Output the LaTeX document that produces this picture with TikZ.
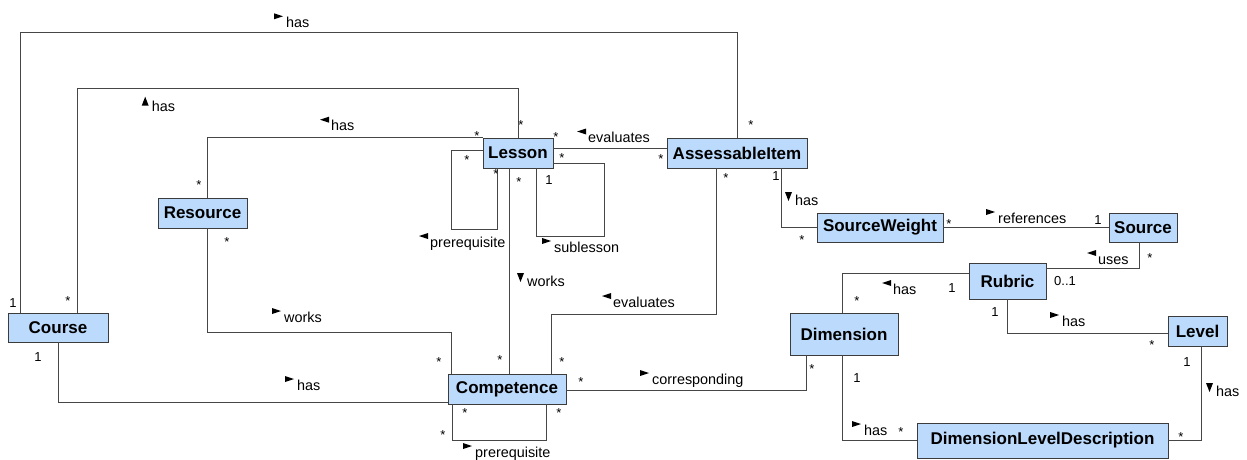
\documentclass[tikz,border=0pt]{standalone}
\usepackage{fontspec}
\setmainfont{Liberation Sans}
\definecolor{boxfill}{RGB}{187,218,252}
\definecolor{boxline}{RGB}{60,60,60}
\definecolor{conline}{RGB}{70,70,70}
\newcommand\tR[1]{\fill[tri] ([shift={(-12,-14)}]#1.base west) -- ++(9,3) -- ++(-9,3) -- cycle;}
\newcommand\tL[1]{\fill[tri] ([shift={(-2,-14)}]#1.base west) -- ++(-9,3) -- ++(9,3) -- cycle;}
\newcommand\tU[1]{\fill[tri] ([shift={(-10,-6)}]#1.base west) -- ++(3.5,-9) -- ++(3.5,9) -- cycle;}
\newcommand\tD[1]{\fill[tri] ([shift={(-10,-13)}]#1.base west) -- ++(7,0) -- ++(-3.5,9) -- cycle;}
\begin{document}
\begin{tikzpicture}[x=1pt,y=-1pt,
  cls/.style={draw=boxline,fill=boxfill,line width=0.9pt,inner sep=0pt,
    font=\fontsize{17}{20}\selectfont\bfseries},
  con/.style={draw=conline,line width=0.9pt},
  lab/.style={anchor=base west,inner sep=0pt,font=\fontsize{14.4}{16}\selectfont},
  mul/.style={inner sep=0pt,text depth=0pt,font=\fontsize{13}{15}\selectfont},
  star/.style={mul,yshift=-2.8pt},
  tri/.style={fill=black}]
\useasboundingbox (0,0) rectangle (1247,460);
\fill[white] (0,0) rectangle (1247,460);
% classes
\node[cls,minimum width=100,minimum height=29] (course) at (58,327.5) {Course};
\node[cls,minimum width=89,minimum height=30] (resource) at (202.5,213) {Resource};
\node[cls,minimum width=70,minimum height=30] (lesson) at (518,153) {Lesson};
\node[cls,minimum width=140,minimum height=30] (ai) at (737,153) {AssessableItem};
\node[cls,minimum width=118,minimum height=30] (comp) at (507,389) {Competence};
\node[cls,minimum width=126,minimum height=29] (sw) at (880,227.5) {SourceWeight};
\node[cls,minimum width=68,minimum height=29] (src) at (1143,227.5) {Source};
\node[cls,minimum width=77,minimum height=36] (rubric) at (1007.5,281) {Rubric};
\node[cls,minimum width=108,minimum height=42] (dim) at (844,334) {Dimension};
\node[cls,minimum width=59,minimum height=30] (level) at (1197.5,331) {Level};
\node[cls,minimum width=251,minimum height=35] (dld) at (1042.5,440.5) {DimensionLevelDescription};
% connectors
\draw[con] ([xshift=13pt]course.north west) |- ([yshift=105pt]ai.north) -- (ai.north);
\draw[con] ([xshift=70pt]course.north west) |- ([yshift=49pt]lesson.north) -- (lesson.north);
\draw[con] ([xshift=50pt]resource.north west) |- (lesson.north west);
\draw[con] ([yshift=-13pt]lesson.north west) -- ++(-31,0) |- ([xshift=15pt,yshift=-61pt]lesson.south west) -- ([xshift=15pt]lesson.south west);
\draw[con] ([yshift=5pt]lesson.south east) -- ++(51,0) |- ([xshift=54pt,yshift=-68pt]lesson.south west) -- ([xshift=54pt]lesson.south west);
\draw[con] ([yshift=5pt]lesson.east) -- ([yshift=5pt]ai.west);
\draw[con] ([xshift=27pt]lesson.south west) -- ([xshift=62pt]comp.north west);
\draw[con] ([xshift=50pt]ai.south west) |- ([xshift=104pt,yshift=59pt]comp.north west) -- ([xshift=104pt]comp.north west);
\draw[con] ([xshift=50pt]resource.south west) |- ([xshift=4pt,yshift=41pt]comp.north west) -- ([xshift=4pt]comp.north west);
\draw[con] (course.south) |- ([yshift=2pt]comp.south west);
\draw[con] ([xshift=5pt]comp.south west) -- ++(0,36) -| ([xshift=99pt]comp.south west);
\draw[con] ([yshift=-1pt]comp.east) -| ([xshift=17pt]dim.south west);
\draw[con] ([xshift=115pt]ai.south west) |- (sw.west);
\draw[con] (sw.east) -- (src.west);
\draw[con] ([xshift=31pt]src.south west) |- ([yshift=-6pt]rubric.north east);
\draw[con] ([yshift=-11pt]rubric.north west) -| ([xshift=53pt]dim.north west);
\draw[con] (rubric.south) |- ([yshift=-2pt]level.west);
\draw[con] ([xshift=53pt]dim.south west) |- (dld.west);
\draw[con] ([xshift=34pt]level.south west) |- (dld.east);
% labels
\node[lab] (l1) at (286,27.3) {has}; \tR{l1}
\node[lab] (l2) at (151.7,111.7) {has}; \tU{l2}
\node[lab] (l3) at (331,130.7) {has}; \tL{l3}
\node[lab] (l4) at (588,142.5) {evaluates}; \tL{l4}
\node[lab] (l5) at (430,247) {prerequisite}; \tL{l5}
\node[lab] (l6) at (554,252) {sublesson}; \tR{l6}
\node[lab] (l7) at (527,286) {works}; \tD{l7}
\node[lab] (l8) at (613,307) {evaluates}; \tL{l8}
\node[lab] (l9) at (284,322) {works}; \tR{l9}
\node[lab] (l10) at (297,390) {has}; \tR{l10}
\node[lab] (l11) at (475,457) {prerequisite}; \tR{l11}
\node[lab] (l12) at (652,384) {corresponding}; \tR{l12}
\node[lab] (l13) at (795,205) {has}; \tD{l13}
\node[lab] (l14) at (998,223) {references}; \tR{l14}
\node[lab] (l15) at (1098,264) {uses}; \tL{l15}
\node[lab] (l16) at (893,294) {has}; \tL{l16}
\node[lab] (l17) at (1062,326) {has}; \tR{l17}
\node[lab] (l18) at (864,435) {has}; \tR{l18}
\node[lab] (l19) at (1216,396) {has}; \tD{l19}
% multiplicities
\node[mul] (m1) at (13,303) {1};
\node[star] (m2) at (751,122) {*};
\node[star] (m3) at (68,298) {*};
\node[star] (m4) at (521,122) {*};
\node[star] (m5) at (199,182) {*};
\node[star] (m6) at (477,133) {*};
\node[star] (m7) at (467,157) {*};
\node[star] (m8) at (496,171) {*};
\node[star] (m9) at (562,155) {*};
\node[mul] (m10) at (549,180) {1};
\node[star] (m11) at (556,134) {*};
\node[star] (m12) at (661,156) {*};
\node[star] (m13) at (519,179) {*};
\node[star] (m14) at (500,357) {*};
\node[star] (m15) at (726,175) {*};
\node[star] (m16) at (562,359) {*};
\node[star] (m17) at (227,239) {*};
\node[star] (m18) at (439,359) {*};
\node[mul] (m19) at (38,357) {1};
\node[star] (m20) at (465,410) {*};
\node[star] (m21) at (559,410) {*};
\node[star] (m22) at (443,432) {*};
\node[star] (m23) at (581,379) {*};
\node[star] (m24) at (812,366) {*};
\node[mul] (m25) at (776,176) {1};
\node[star] (m26) at (802,237) {*};
\node[star] (m27) at (949,221) {*};
\node[mul] (m28) at (1098,220) {1};
\node[star] (m29) at (1150,255) {*};
\node[mul] (m30) at (1065,281) {0..1};
\node[mul] (m31) at (952,288) {1};
\node[star] (m32) at (857,298) {*};
\node[mul] (m33) at (995,312) {1};
\node[star] (m34) at (1152,342) {*};
\node[mul] (m35) at (857,378) {1};
\node[star] (m36) at (901,429) {*};
\node[mul] (m37) at (1187,362) {1};
\node[star] (m38) at (1181,434) {*};
\end{tikzpicture}
\end{document}
